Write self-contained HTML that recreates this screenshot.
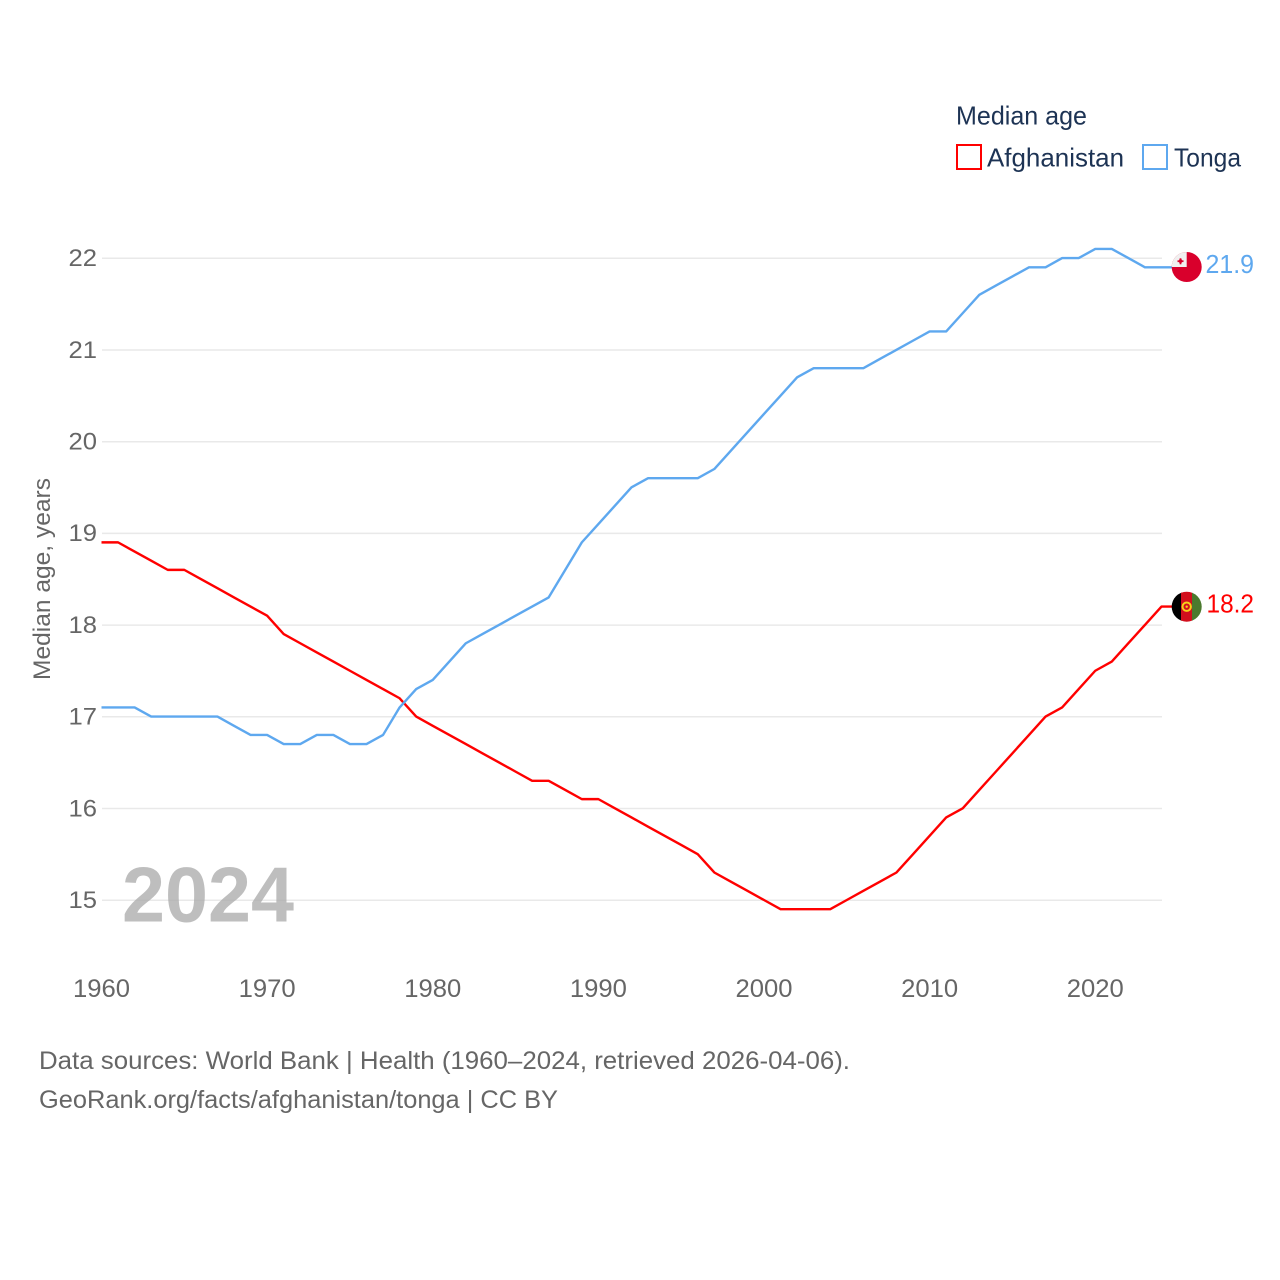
<!DOCTYPE html>
<html lang="en">
<head>
<meta charset="utf-8">
<title>Median age: Afghanistan and Tonga</title>
<style>
html,body{margin:0;padding:0;background:#fff;}
svg{display:block;font-family:"Liberation Sans",sans-serif;}
</style>
</head>
<body>
<svg id="chart" width="1280" height="1280" viewBox="0 0 1280 1280" xmlns="http://www.w3.org/2000/svg">
  <defs>
    <clipPath id="flag-clip-to"><circle cx="1186.7" cy="267" r="15"/></clipPath>
    <clipPath id="flag-clip-af"><circle cx="1186.7" cy="606.7" r="15"/></clipPath>
  </defs>
  <rect width="1280" height="1280" fill="#ffffff"/>
  <g id="grid"></g>
  <text x="122" y="921.5" font-size="78" font-weight="700" fill="#a8a8a8" fill-opacity="0.75" textLength="172" lengthAdjust="spacingAndGlyphs">2024</text>
  <g id="yticks"></g>
  <g id="xticks"></g>
  <g id="series"></g>
  <text transform="translate(50,680) rotate(-90)" font-size="24.5" fill="#666666" textLength="202" lengthAdjust="spacingAndGlyphs">Median age, years</text>

  <g>
    <text x="956" y="124.5" font-size="26" fill="#1d3354" textLength="131" lengthAdjust="spacingAndGlyphs">Median age</text>
    <rect x="957" y="145" width="24" height="24" fill="none" stroke="#ff0000" stroke-width="2"/>
    <text x="987" y="166.5" font-size="26" fill="#1d3354" textLength="137" lengthAdjust="spacingAndGlyphs">Afghanistan</text>
    <rect x="1143" y="145" width="24" height="24" fill="none" stroke="#5ea8ef" stroke-width="2"/>
    <text x="1174" y="166.5" font-size="26" fill="#1d3354" textLength="67" lengthAdjust="spacingAndGlyphs">Tonga</text>
  </g>

  <g clip-path="url(#flag-clip-to)">
    <rect x="1171" y="251" width="32" height="32" fill="#d9002c"/>
    <rect x="1171" y="251" width="15.7" height="16" fill="#f0f0f0"/>
    <rect x="1179" y="259.6" width="3" height="3" fill="#d9002c"/>
    <rect x="1177.5" y="260.3" width="6" height="1.8" fill="#d9002c"/>
    <rect x="1179.6" y="258.3" width="1.8" height="6" fill="#d9002c"/>
  </g>
  <g clip-path="url(#flag-clip-af)">
    <rect x="1171" y="591" width="11" height="32" fill="#000000"/>
    <rect x="1181" y="591" width="11.4" height="32" fill="#d20f1d"/>
    <rect x="1192" y="591" width="11" height="32" fill="#4a7a2e"/>
    <circle cx="1186.7" cy="606.7" r="4.2" fill="none" stroke="#f5d21a" stroke-width="2"/>
    <circle cx="1186.7" cy="606.7" r="1.2" fill="#f5d21a"/>
  </g>

  <text x="1205.5" y="273" font-size="26" fill="#5ea8ef" textLength="48.5" lengthAdjust="spacingAndGlyphs">21.9</text>
  <text x="1206.5" y="612.5" font-size="26" fill="#ff0000" textLength="47.5" lengthAdjust="spacingAndGlyphs">18.2</text>

  <text x="39" y="1069" font-size="25" fill="#666666" textLength="811" lengthAdjust="spacingAndGlyphs">Data sources: World Bank | Health (1960–2024, retrieved 2026-04-06).</text>
  <a><text x="39" y="1108" font-size="25" fill="#666666" textLength="519" lengthAdjust="spacingAndGlyphs">GeoRank.org/facts/afghanistan/tonga | CC BY</text></a>
</svg>
<script>
const years = [1960,1961,1962,1963,1964,1965,1966,1967,1968,1969,1970,1971,1972,1973,1974,1975,1976,1977,1978,1979,1980,1981,1982,1983,1984,1985,1986,1987,1988,1989,1990,1991,1992,1993,1994,1995,1996,1997,1998,1999,2000,2001,2002,2003,2004,2005,2006,2007,2008,2009,2010,2011,2012,2013,2014,2015,2016,2017,2018,2019,2020,2021,2022,2023,2024];
const afghanistanValues = [18.9,18.9,18.8,18.7,18.6,18.6,18.5,18.4,18.3,18.2,18.1,17.9,17.8,17.7,17.6,17.5,17.4,17.3,17.2,17.0,16.9,16.8,16.7,16.6,16.5,16.4,16.3,16.3,16.2,16.1,16.1,16.0,15.9,15.8,15.7,15.6,15.5,15.3,15.2,15.1,15.0,14.9,14.9,14.9,14.9,15.0,15.1,15.2,15.3,15.5,15.7,15.9,16.0,16.2,16.4,16.6,16.8,17.0,17.1,17.3,17.5,17.6,17.8,18.0,18.2];
const tongaValues = [17.1,17.1,17.1,17.0,17.0,17.0,17.0,17.0,16.9,16.8,16.8,16.7,16.7,16.8,16.8,16.7,16.7,16.8,17.1,17.3,17.4,17.6,17.8,17.9,18.0,18.1,18.2,18.3,18.6,18.9,19.1,19.3,19.5,19.6,19.6,19.6,19.6,19.7,19.9,20.1,20.3,20.5,20.7,20.8,20.8,20.8,20.8,20.9,21.0,21.1,21.2,21.2,21.4,21.6,21.7,21.8,21.9,21.9,22.0,22.0,22.1,22.1,22.0,21.9,21.9];
const yTickValues = [15,16,17,18,19,20,21,22];
const xTickValues = [1960,1970,1980,1990,2000,2010,2020];

const NS = 'http://www.w3.org/2000/svg';
const plotLeft = 101.5, plotRight = 1161.5, yearMin = 1960, yearMax = 2024;
const valueBase = 15, valueBaseY = 900, pxPerUnit = 91.7;
function xScale(year) { return plotLeft + (year - yearMin) * (plotRight - plotLeft) / (yearMax - yearMin); }
function yScale(value) { return valueBaseY - (value - valueBase) * pxPerUnit; }
function make(tag, attrs, parent, text) {
  const el = document.createElementNS(NS, tag);
  for (const k in attrs) el.setAttribute(k, attrs[k]);
  if (text !== undefined) el.textContent = text;
  parent.appendChild(el);
  return el;
}
const gridGroup = document.getElementById('grid');
const yGroup = document.getElementById('yticks');
const xGroup = document.getElementById('xticks');
const seriesGroup = document.getElementById('series');

yTickValues.forEach(function (v) {
  const line = make('line', {x1: plotLeft + 0.5, x2: plotRight + 0.5, y1: yScale(v) + 0.2, y2: yScale(v) + 0.2, stroke: '#e9e9e9', 'stroke-width': 1.5}, gridGroup);
  
  
  const label = make('text', {x: 97, y: yScale(v) + 8, 'text-anchor': 'end', 'font-size': 24.5, fill: '#666666', textLength: 28.5, lengthAdjust: 'spacingAndGlyphs'}, yGroup, String(v));
  
  
});
xTickValues.forEach(function (v) {
  const label = make('text', {x: xScale(v), y: 997, 'text-anchor': 'middle', 'font-size': 25, fill: '#666666', textLength: 57, lengthAdjust: 'spacingAndGlyphs'}, xGroup, String(v));
  
  
});
function drawSeries(name, values, color) {
  const pts = values.map(function (v, i) { return xScale(years[i]).toFixed(2) + ',' + yScale(v).toFixed(2); });
  const lastY = yScale(values[values.length - 1]).toFixed(2);
  pts.push('1172,' + lastY);
  const line = make('polyline', {points: pts.join(' '), fill: 'none', stroke: color, 'stroke-width': 2.4, 'stroke-linejoin': 'round'}, seriesGroup);
  
  
}
drawSeries('afghanistan', afghanistanValues, '#ff0000');
drawSeries('tonga', tongaValues, '#5ea8ef');
</script>
</body>
</html>
